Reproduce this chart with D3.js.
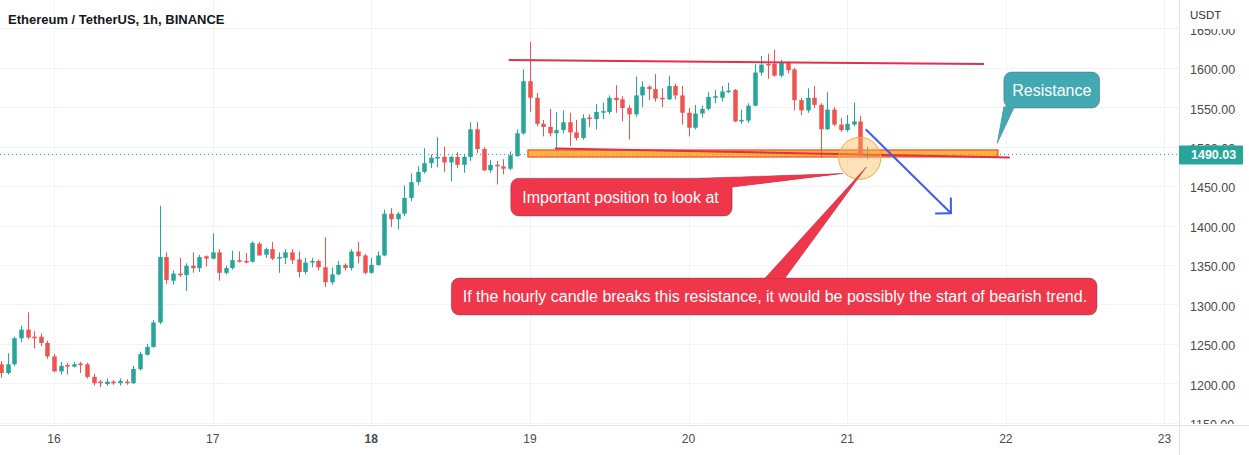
<!DOCTYPE html>
<html><head><meta charset="utf-8">
<script src="https://cdn.jsdelivr.net/npm/d3@7"></script>
<style>
html,body{margin:0;padding:0;background:#fff;overflow:hidden;}
svg{display:block;font-family:"Liberation Sans",Arial,sans-serif;}
</style></head><body>
<svg id="chart" width="1249" height="455"></svg>
<script>
// ---------------- DATA ----------------
const title = "Ethereum / TetherUS, 1h, BINANCE";
const currency = "USDT";
// first candle: 15 Jan 2021 16:00 UTC (8 hours before 16 Jan 00:00), hourly candles
const firstCandle = Date.UTC(2021, 0, 15, 16);
const opens  = [1224,1213,1224,1257,1268,1259,1259,1251,1234,1215,1223,1221,1225,1224,1208,1202,1199,1202,1200,1202,
  1200,1218,1236,1246,1277,1360,1330,1339,1337,1349,1346,1361,1358,1366,1340,1346,1356,1355,1354,1377,
  1363,1370,1358,1359,1366,1357,1341,1353,1355,1347,1328,1338,1350,1346,1367,1362,1340,1350,1362,1415,
  1408,1415,1435,1455,1468,1479,1485,1487,1480,1487,1477,1487,1522,1497,1470,1477,1475,1472,1488,1517,
  1583,1562,1529,1525,1517,1521,1531,1518,1511,1537,1535,1543,1544,1562,1560,1549,1541,1565,1576,1573,
  1562,1560,1577,1565,1543,1524,1542,1548,1562,1562,1569,1572,1532,1533,1552,1594,1605,1605,1590,1606,
  1598,1559,1546,1562,1553,1522,1547,1528,1521,1528,1532,1488];
const highs  = [1228,1238,1259,1273,1290,1266,1263,1254,1237,1227,1226,1227,1227,1226,1212,1204,1206,1204,1206,1205,
  1222,1240,1250,1280,1425,1366,1343,1359,1352,1366,1363,1362,1390,1370,1349,1368,1367,1365,1380,1379,
  1372,1379,1366,1370,1370,1367,1359,1359,1357,1385,1347,1355,1352,1370,1379,1364,1359,1367,1420,1422,
  1417,1451,1466,1475,1498,1490,1512,1500,1488,1493,1490,1531,1531,1499,1483,1482,1484,1494,1522,1598,
  1633,1568,1534,1548,1544,1546,1543,1534,1541,1541,1554,1556,1565,1578,1564,1553,1589,1583,1578,1592,
  1574,1590,1580,1577,1549,1553,1552,1569,1572,1577,1581,1573,1547,1555,1605,1615,1618,1623,1610,1608,
  1600,1562,1574,1577,1555,1569,1550,1536,1540,1556,1539,1500];
const lows   = [1207,1211,1222,1252,1256,1244,1247,1231,1214,1211,1211,1220,1213,1206,1197,1195,1197,1198,1197,1198,
  1199,1216,1235,1245,1275,1326,1325,1335,1317,1340,1341,1348,1357,1330,1338,1344,1353,1352,1353,1362,
  1359,1356,1340,1351,1351,1334,1338,1347,1343,1322,1325,1337,1343,1343,1352,1338,1339,1349,1361,1398,
  1395,1412,1431,1451,1466,1473,1474,1468,1456,1473,1467,1482,1492,1469,1467,1452,1465,1470,1487,1515,
  1544,1526,1513,1513,1498,1517,1501,1508,1509,1525,1522,1535,1541,1543,1532,1509,1538,1550,1559,1557,
  1550,1559,1560,1528,1513,1522,1537,1546,1555,1557,1568,1531,1529,1530,1551,1590,1586,1589,1588,1593,
  1546,1540,1543,1549,1486,1521,1526,1519,1519,1526,1490,1484];
const closes = [1213,1224,1257,1268,1258,1257,1251,1234,1215,1222,1221,1224,1223,1208,1200,1200,1202,1200,1203,1200,
  1218,1237,1246,1277,1360,1331,1339,1337,1349,1346,1360,1358,1366,1340,1346,1356,1354,1353,1378,1362,
  1370,1358,1360,1366,1356,1341,1353,1355,1347,1328,1338,1350,1346,1367,1361,1340,1350,1362,1415,1408,
  1415,1435,1455,1468,1479,1486,1487,1480,1487,1477,1487,1522,1497,1470,1477,1475,1472,1489,1517,1583,
  1562,1529,1525,1517,1521,1531,1518,1511,1536,1535,1544,1545,1562,1559,1549,1541,1565,1576,1573,1561,
  1560,1577,1565,1543,1524,1542,1548,1563,1564,1570,1571,1532,1534,1552,1594,1604,1603,1590,1606,1597,
  1559,1546,1562,1553,1522,1547,1528,1521,1529,1532,1492,1490.03];
const dayTicks = [16, 17, 18, 19, 20, 21, 22, 23];
const boldDays = [18];
const priceTicks = [1150, 1200, 1250, 1300, 1350, 1400, 1450, 1500, 1550, 1600, 1650];
const lastPrice = 1490.03;

// drawings, positions as [hours after 16 Jan 00:00 UTC, price]
const resistanceTop = [[68.8, 1609.9], [140.7, 1604.8]];
const supportZone = {from: [71.7, 1495.8], to: [142.8, 1486.9]};
const supportLine = [[75.8, 1497.7], [144.6, 1486.3]];
const focusCircle = [121.9, 1485.2];
const bearArrow = [[122.8, 1522.0], [135.7, 1415.5]];
const callouts = [
  {text: "Important position to look at", box: [[69.1, 1459.9], [102.6, 1412.1]],
   wedge: [[97.7, 1459.9], [119.4, 1466.0], [102.6, 1448.8]], color: "#f0364a"},
  {text: "If the hourly candle breaks this resistance, it would be possibly the start of bearish trend.",
   box: [[60.1, 1333.4], [157.8, 1286.5]],
   wedge: [[107.6, 1333.4], [122.9, 1474.2], [110.6, 1333.4]], color: "#f0364a"},
  {text: "Resistance", box: [[143.7, 1594.7], [158.2, 1549.0]],
   wedge: [[143.7, 1550.5], [142.7, 1504.3], [145.3, 1550.5]], color: "#42a9b2", center: true}
];

// ---------------- LAYOUT ----------------
const W = 1249, H = 455;
const plotW = 1179, plotH = 425;
const HOUR = 3600e3;
const t16 = Date.UTC(2021, 0, 16);
const toDate = h => new Date(t16 + h * HOUR);

const candles = opens.map((o, i) => ({
  t: new Date(firstCandle + i * HOUR), o, h: highs[i], l: lows[i], c: closes[i]
}));

const x = d3.scaleUtc().domain([toDate(-8.17), toDate(170.2)]).range([0, plotW]);
const y = d3.scaleLinear().domain([1147, 1686]).range([plotH, 0]);
const px = p => [x(toDate(p[0])), y(p[1])];

const svg = d3.select("#chart");
svg.append("rect").attr("width", W).attr("height", H).attr("fill", "#fff");

const defs = svg.append("defs");
defs.append("clipPath").attr("id", "plotClip").append("rect").attr("width", plotW).attr("height", plotH);
defs.append("clipPath").attr("id", "axisClip").append("rect").attr("x", plotW).attr("y", 0).attr("width", W - plotW).attr("height", plotH - 1);

const grid = svg.append("g");
grid.selectAll("line.h").data(priceTicks).join("line")
  .attr("x1", 0).attr("x2", plotW)
  .attr("y1", d => Math.round(y(d)) + 0.5).attr("y2", d => Math.round(y(d)) + 0.5)
  .attr("stroke", "#f0f3fa").attr("stroke-width", 1);
grid.selectAll("line.v").data(dayTicks).join("line")
  .attr("y1", 0).attr("y2", plotH)
  .attr("x1", d => Math.round(x(new Date(Date.UTC(2021, 0, d)))) + 0.5)
  .attr("x2", d => Math.round(x(new Date(Date.UTC(2021, 0, d)))) + 0.5)
  .attr("stroke", "#f0f3fa").attr("stroke-width", 1);

const plot = svg.append("g").attr("clip-path", "url(#plotClip)");

// last price dotted line
plot.append("line").attr("x1", 0).attr("x2", plotW)
  .attr("y1", y(lastPrice)).attr("y2", y(lastPrice))
  .attr("stroke", "#26a69a").attr("stroke-width", 1).attr("stroke-dasharray", "1,3");

// support zone rectangle
const z1 = px(supportZone.from), z2 = px(supportZone.to);
plot.append("rect").attr("x", z1[0]).attr("y", z1[1])
  .attr("width", z2[0] - z1[0]).attr("height", z2[1] - z1[1])
  .attr("fill", "#ff9800").attr("fill-opacity", 0.75)
  .attr("stroke", "#ef4a2e").attr("stroke-width", 1.2);

// candles
const step = x(new Date(firstCandle + HOUR)) - x(new Date(firstCandle));
const bw = step * 0.68;
const up = "#26a69a", down = "#ef5350";
const cg = plot.append("g");
cg.selectAll("line").data(candles).join("line")
  .attr("x1", d => Math.round(x(d.t)) + 0.5).attr("x2", d => Math.round(x(d.t)) + 0.5)
  .attr("y1", d => y(d.h)).attr("y2", d => y(d.l))
  .attr("stroke", d => d.c >= d.o ? up : down).attr("stroke-width", 1);
cg.selectAll("rect").data(candles).join("rect")
  .attr("x", d => Math.round(x(d.t)) + 0.5 - bw / 2)
  .attr("width", bw)
  .attr("y", d => y(Math.max(d.o, d.c)))
  .attr("height", d => Math.max(1, Math.abs(y(d.o) - y(d.c))))
  .attr("fill", d => d.c >= d.o ? up : down);

// lines
const line = d3.line().x(d => px(d)[0]).y(d => px(d)[1]);
plot.append("path").attr("d", line(resistanceTop)).attr("stroke", "#e2304a").attr("stroke-width", 2).attr("fill", "none");
plot.append("path").attr("d", line(supportLine)).attr("stroke", "#e2304a").attr("stroke-width", 2).attr("fill", "none");

// focus circle
const fc = px(focusCircle);
plot.append("circle").attr("cx", fc[0]).attr("cy", fc[1]).attr("r", 21)
  .attr("fill", "#ffb74d").attr("fill-opacity", 0.4)
  .attr("stroke", "#f5a742").attr("stroke-width", 1);

// bearish arrow
const a0 = px(bearArrow[0]), a1 = px(bearArrow[1]);
plot.append("line").attr("x1", a0[0]).attr("y1", a0[1]).attr("x2", a1[0]).attr("y2", a1[1])
  .attr("stroke", "#3c5ef0").attr("stroke-width", 2);
const ang = Math.atan2(a1[1] - a0[1], a1[0] - a0[0]);
const headLen = 15;
[ang + Math.PI - Math.PI / 4, ang + Math.PI + Math.PI / 4].forEach(a => {
  plot.append("line").attr("x1", a1[0]).attr("y1", a1[1])
    .attr("x2", a1[0] + headLen * Math.cos(a)).attr("y2", a1[1] + headLen * Math.sin(a))
    .attr("stroke", "#3c5ef0").attr("stroke-width", 2).attr("stroke-linecap", "round");
});

// callouts
callouts.forEach(c => {
  const g = plot.append("g");
  const b1 = px(c.box[0]), b2 = px(c.box[1]);
  const wpts = c.wedge.map(px);
  g.append("path").attr("d", "M" + wpts.map(p => p.join(",")).join("L") + "Z")
    .attr("fill", c.color).attr("stroke", "rgba(60,60,80,0.35)").attr("stroke-width", 1);
  g.append("rect").attr("x", b1[0]).attr("y", b1[1])
    .attr("width", b2[0] - b1[0]).attr("height", b2[1] - b1[1]).attr("rx", 8)
    .attr("fill", c.color).attr("stroke", "rgba(60,60,80,0.35)").attr("stroke-width", 1);
  // cover wedge base stroke
  g.append("path").attr("d", "M" + wpts.map(p => p.join(",")).join("L") + "Z")
    .attr("fill", c.color);
  g.append("text")
    .attr("x", c.center ? (b1[0] + b2[0]) / 2 : b1[0] + 11.5)
    .attr("y", (b1[1] + b2[1]) / 2)
    .attr("dy", "0.35em")
    .attr("text-anchor", c.center ? "middle" : "start")
    .attr("fill", "#fff").attr("font-size", 16)
    .text(c.text);
});

// axis borders
svg.append("line").attr("x1", plotW + 0.5).attr("x2", plotW + 0.5).attr("y1", 0).attr("y2", H)
  .attr("stroke", "#e0e3eb");
svg.append("line").attr("x1", 0).attr("x2", W).attr("y1", plotH + 0.5).attr("y2", plotH + 0.5)
  .attr("stroke", "#e0e3eb");

// right price axis
const ra = svg.append("g").attr("clip-path", "url(#axisClip)");
ra.selectAll("text").data(priceTicks).join("text")
  .attr("x", plotW + 11).attr("y", d => y(d) + 2).attr("dy", "0.35em")
  .attr("fill", "#4a4a4a").attr("font-size", 12.5)
  .text(d => d3.format(".2f")(d));
svg.append("rect").attr("x", plotW + 1).attr("y", 0).attr("width", W - plotW - 1).attr("height", 29).attr("fill", "#fff");
svg.append("text").attr("x", plotW + 11).attr("y", 15).attr("dy", "0.35em")
  .attr("fill", "#333").attr("font-size", 11.5).text(currency);

// last price label
svg.append("rect").attr("x", plotW).attr("y", y(lastPrice) - 9).attr("width", 64).attr("height", 19)
  .attr("fill", "#26a69a").attr("rx", 1);
svg.append("text").attr("x", plotW + 12).attr("y", y(lastPrice) + 0.5).attr("dy", "0.35em")
  .attr("fill", "#fff").attr("font-size", 12.5).attr("font-weight", "bold").text(d3.format(".2f")(lastPrice));

// bottom time axis
svg.append("g").selectAll("text").data(dayTicks).join("text")
  .attr("x", d => x(new Date(Date.UTC(2021, 0, d))))
  .attr("y", 439).attr("dy", "0.35em").attr("text-anchor", "middle")
  .attr("fill", "#4a4a4a").attr("font-size", 12)
  .attr("font-weight", d => boldDays.includes(d) ? "bold" : "normal")
  .text(d => d);

// title
svg.append("text").attr("x", 8).attr("y", 19).attr("dy", "0.35em")
  .attr("fill", "#131722").attr("font-size", 13).attr("font-weight", "bold").text(title);
</script>
</body></html>
